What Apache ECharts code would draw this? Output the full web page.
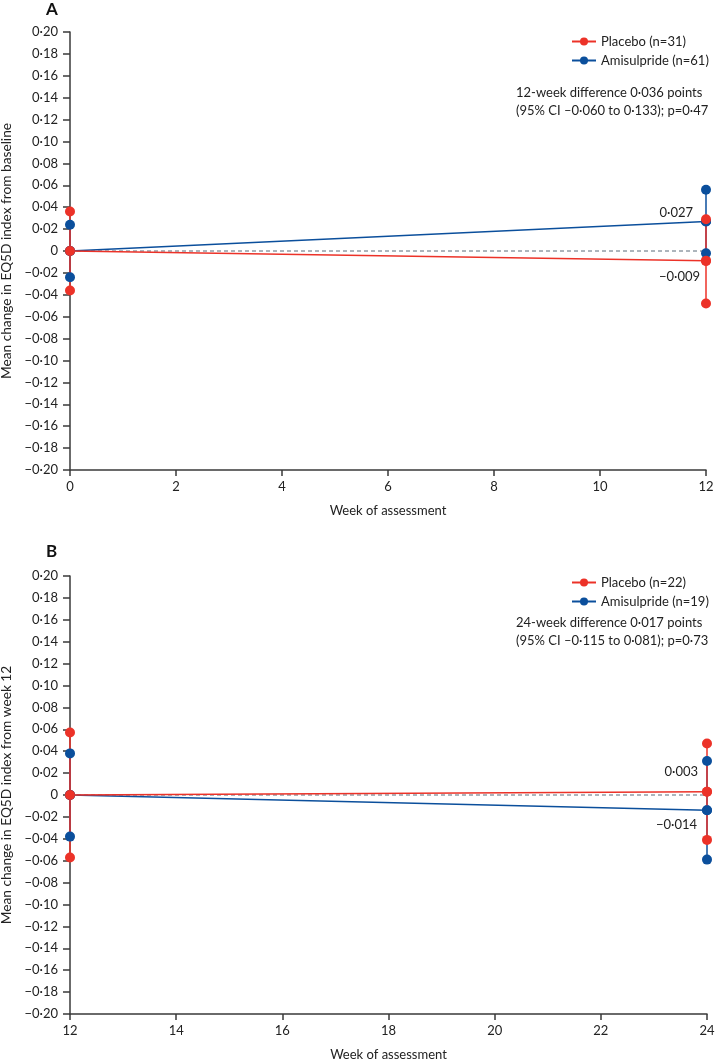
<!DOCTYPE html>
<html>
<head>
<meta charset="utf-8">
<script src="https://cdn.jsdelivr.net/npm/echarts@6/dist/echarts.min.js"></script>
<style>
html,body{margin:0;padding:0;background:#fff;}
#chart{width:716px;height:1060px;}
</style>
</head>
<body>
<div id="chart"></div>
<script>
// ---------- data ----------
const weeksA = [0, 12];
const placeboMeanA = [0, -0.009];
const placeboLowA = [-0.036, -0.048];
const placeboHighA = [0.036, 0.029];
const amiMeanA = [0, 0.027];
const amiLowA = [-0.024, -0.002];
const amiHighA = [0.024, 0.056];

const weeksB = [12, 24];
const placeboMeanB = [0, 0.003];
const placeboLowB = [-0.057, -0.041];
const placeboHighB = [0.057, 0.047];
const amiMeanB = [0, -0.014];
const amiLowB = [-0.038, -0.059];
const amiHighB = [0.038, 0.031];

const namesA = ['Placebo (n=31)', 'Amisulpride (n=61)'];
const namesB = ['Placebo (n=22)', 'Amisulpride (n=19)'];
const noteA = ['12-week difference 0·036 points', '(95% CI –0·060 to 0·133); p=0·47'];
const noteB = ['24-week difference 0·017 points', '(95% CI –0·115 to 0·081); p=0·73'];
const yTitleA = 'Mean change in EQ5D index from baseline';
const yTitleB = 'Mean change in EQ5D index from week 12';
const xTitle = 'Week of assessment';
const yMin = -0.2, yMax = 0.2, yStep = 0.02;
const xA = [0, 12], xB = [12, 24], xStep = 2;

// ---------- style ----------
const RED = '#ec3228';
const BLUE = '#0b4f9c';
const AXIS = '#3a3a3a';
const TXT = '#222';
const FONT = 'Lato';

function fmtTick(v) {
  if (Math.abs(v) < 1e-9) return '0';
  const s = Math.abs(v).toFixed(2).replace('.', '·');
  return (v < 0 ? '−' : '') + s;
}
function fmtVal(v) {
  const s = Math.abs(v).toFixed(3).replace('.', '·');
  return (v < 0 ? '−' : '') + s;
}

const grids = [
  {left: 70, top: 32, width: 636, height: 438, containLabel: false, outerBoundsMode: 'none'},
  {left: 70, top: 576, width: 637, height: 438, containLabel: false, outerBoundsMode: 'none'}
];

function xAxis(idx, range) {
  return {
    type: 'value', gridIndex: idx, min: range[0], max: range[1], interval: xStep,
    name: xTitle, nameLocation: 'middle', nameGap: 34,
    nameTextStyle: {fontFamily: FONT, fontSize: 13, color: TXT},
    axisLine: {show: true, onZero: false, lineStyle: {color: AXIS, width: 1.5}},
    axisTick: {show: true, length: 6, lineStyle: {color: AXIS, width: 1.5}},
    axisLabel: {margin: 10, fontFamily: FONT, fontSize: 13, color: TXT},
    splitLine: {show: false}
  };
}
function yAxis(idx, title) {
  return {
    type: 'value', gridIndex: idx, min: yMin, max: yMax, interval: yStep,
    name: title, nameLocation: 'middle', nameGap: 50, nameRotate: 90,
    nameTextStyle: {fontFamily: FONT, fontSize: 13.7, color: TXT},
    axisLine: {show: true, onZero: false, lineStyle: {color: AXIS, width: 1.5}},
    axisTick: {show: true, length: 7, lineStyle: {color: AXIS, width: 1.5}},
    axisLabel: {margin: 12, fontFamily: FONT, fontSize: 13, color: TXT, formatter: fmtTick},
    splitLine: {show: false}
  };
}

function errSeries(idx, weeks, lo, hi, color, z) {
  return {
    type: 'custom', xAxisIndex: idx, yAxisIndex: idx, z: z, silent: true,
    encode: {x: 0, y: [1, 2]},
    data: weeks.map((w, i) => [w, lo[i], hi[i]]),
    renderItem: function (params, api) {
      const p1 = api.coord([api.value(0), api.value(1)]);
      const p2 = api.coord([api.value(0), api.value(2)]);
      return {type: 'line', shape: {x1: p1[0], y1: p1[1], x2: p2[0], y2: p2[1]},
        style: {stroke: color, lineWidth: 1.5}};
    }
  };
}
function meanLine(idx, name, weeks, mean, color, z) {
  return {
    type: 'line', name: name, xAxisIndex: idx, yAxisIndex: idx, z: z,
    data: weeks.map((w, i) => [w, mean[i]]),
    symbol: 'circle', symbolSize: 10, showSymbol: true,
    itemStyle: {color: color},
    lineStyle: {color: color, width: 1.5},
    animation: false
  };
}
function dots(idx, weeks, lo, mean, hi, color, z, labelCfg) {
  const data = [];
  weeks.forEach((w, i) => {
    data.push([w, lo[i]]);
    data.push([w, hi[i]]);
    if (i === weeks.length - 1) {
      data.push({value: [w, mean[i]], label: {
        show: true, position: 'left', distance: 0, offset: labelCfg,
        formatter: (p) => fmtVal(p.value[1]),
        fontFamily: FONT, fontSize: 13, color: TXT}});
    } else {
      data.push([w, mean[i]]);
    }
  });
  return {
    type: 'scatter', xAxisIndex: idx, yAxisIndex: idx, z: z,
    symbol: 'circle', symbolSize: 10, itemStyle: {color: color, opacity: 1},
    data: data, animation: false
  };
}
function zeroLine(idx, range) {
  return {
    type: 'line', xAxisIndex: idx, yAxisIndex: idx, z: 1, symbol: 'none',
    data: [[range[0], 0], [range[1], 0]],
    lineStyle: {color: '#5b6b78', width: 1, type: [4, 3]}, silent: true, animation: false
  };
}

const legendCommon = {
  orient: 'vertical', left: 566, itemWidth: 24, itemHeight: 10, itemGap: 6,
  textStyle: {fontFamily: FONT, fontSize: 13, color: TXT}, selectedMode: false
};

const option = {
  animation: false,
  grid: grids,
  xAxis: [xAxis(0, xA), xAxis(1, xB)],
  yAxis: [yAxis(0, yTitleA), yAxis(1, yTitleB)],
  legend: [
    Object.assign({}, legendCommon, {top: 30, data: namesA}),
    Object.assign({}, legendCommon, {top: 571, data: namesB})
  ],
  graphic: [
    {type: 'text', left: 46, top: 1, style: {text: 'A', font: 'bold 17px ' + FONT, fill: '#111'}},
    {type: 'text', left: 46, top: 543, style: {text: 'B', font: 'bold 17px ' + FONT, fill: '#111'}},
    {type: 'text', left: 516, top: 84, style: {text: noteA.join('\n'), font: '13px ' + FONT, fill: TXT, lineHeight: 18}},
    {type: 'text', left: 516, top: 614, style: {text: noteB.join('\n'), font: '13px ' + FONT, fill: TXT, lineHeight: 18}}
  ],
  series: [
    zeroLine(0, xA),
    meanLine(0, namesA[1], weeksA, amiMeanA, BLUE, 2),
    meanLine(0, namesA[0], weeksA, placeboMeanA, RED, 2),
    errSeries(0, weeksA, amiLowA, amiHighA, BLUE, 3),
    errSeries(0, weeksA, placeboLowA, placeboHighA, RED, 3),
    dots(0, weeksA, amiLowA, amiMeanA, amiHighA, BLUE, 5, [-8, -9]),
    dots(0, weeksA, placeboLowA, placeboMeanA, placeboHighA, RED, 6, [-1, 16]),

    zeroLine(1, xB),
    meanLine(1, namesB[1], weeksB, amiMeanB, BLUE, 2),
    meanLine(1, namesB[0], weeksB, placeboMeanB, RED, 2),
    errSeries(1, weeksB, amiLowB, amiHighB, BLUE, 3),
    errSeries(1, weeksB, placeboLowB, placeboHighB, RED, 3),
    dots(1, weeksB, amiLowB, amiMeanB, amiHighB, BLUE, 5, [-5, 14]),
    dots(1, weeksB, placeboLowB, placeboMeanB, placeboHighB, RED, 6, [-4, -20])
  ]
};

const chart = echarts.init(document.getElementById('chart'), null, {renderer: 'canvas'});
chart.setOption(option);
</script>
</body>
</html>
